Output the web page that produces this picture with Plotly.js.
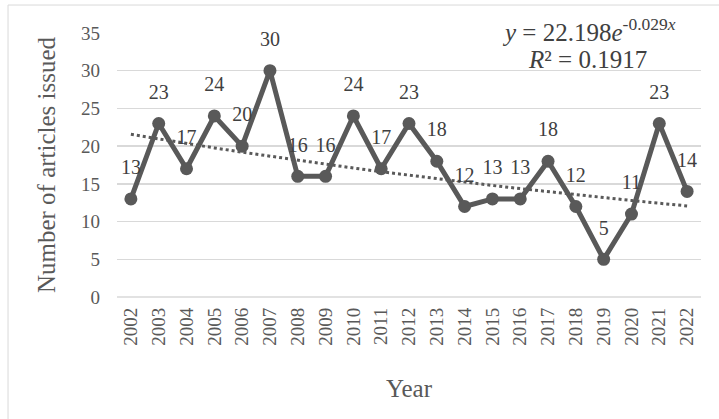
<!DOCTYPE html>
<html>
<head>
<meta charset="utf-8">
<script src="https://cdn.plot.ly/plotly-3.0.1.min.js"></script>
<style>html,body{margin:0;padding:0;background:#fff;}#chart{width:719px;height:419px;}</style>
</head>
<body>
<div id="chart"></div>
<script>
const years = ["2002","2003","2004","2005","2006","2007","2008","2009","2010","2011","2012","2013","2014","2015","2016","2017","2018","2019","2020","2021","2022"];
const articles = [13,23,17,24,20,30,16,16,24,17,23,18,12,13,13,18,12,5,11,23,14];
const trendA = 22.198;
const trendB = -0.029;
const trendR2 = 0.1917;
const yTicks = [0,5,10,15,20,25,30,35];

const trendVals = years.map((_, i) => trendA * Math.exp(trendB * (i + 1)));
const font = "'Liberation Serif', 'Times New Roman', serif";

const traces = [
  {
    x: years, y: trendVals, type: "scatter", mode: "lines",
    line: {color: "#595959", width: 3, dash: "dot"},
    hoverinfo: "skip", showlegend: false
  },
  {
    x: years, y: articles, type: "scatter", mode: "lines+markers",
    line: {color: "#595959", width: 5},
    marker: {color: "#595959", size: 13},
    showlegend: false
  },
  {
    x: years, y: articles, type: "scatter", mode: "markers+text",
    marker: {color: "rgba(0,0,0,0)", size: 30},
    text: articles.map(String), textposition: "top center",
    textfont: {family: font, size: 20, color: "#404040"},
    cliponaxis: false, showlegend: false, hoverinfo: "skip"
  }
];

const layout = {
  width: 719, height: 419,
  margin: {l: 117, r: 18, t: 33, b: 122},
  paper_bgcolor: "#fff", plot_bgcolor: "#fff",
  font: {family: font, color: "#595959"},
  xaxis: {
    type: "category", range: [-0.5, 20.5],
    tickangle: -90, tickfont: {family: font, size: 19, color: "#595959"},
    showgrid: false, zeroline: false, showline: false, ticks: "",
    ticklabelstandoff: 6,
    title: {text: "Year", font: {family: font, size: 25, color: "#595959"}, standoff: 34}
  },
  yaxis: {
    range: [0, 35], tickvals: yTicks, ticktext: yTicks.map(String),
    tickfont: {family: font, size: 19, color: "#595959"},
    gridcolor: "#d9d9d9", gridwidth: 1.3, zeroline: false, showline: false, ticks: "",
    ticklabelstandoff: 16,
    title: {text: "Number of articles issued", font: {family: font, size: 25, color: "#595959"}, standoff: 18}
  },
  shapes: [
    {type: "line", xref: "paper", yref: "paper", x0: 0, x1: 1, y0: 0, y1: 0, line: {color: "#d9d9d9", width: 1.3}},
    {type: "rect", xref: "paper", yref: "paper", x0: -0.1866, x1: 1.032, y0: -0.47, y1: 1.106, line: {color: "#d9d9d9", width: 1}, fillcolor: "rgba(0,0,0,0)", layer: "below"}
  ],
  annotations: [
    {xref: "paper", yref: "paper", x: (589 - 117) / 584, y: (297 - 30) / 264, xanchor: "center", yanchor: "middle", showarrow: false,
     text: "<i>y</i> = 22.198<i>e</i><sup>" + trendB.toFixed(3) + "<i>x</i></sup>",
     font: {family: font, size: 25, color: "#404040"}},
    {xref: "paper", yref: "paper", x: (587 - 117) / 584, y: (297 - 59) / 264, xanchor: "center", yanchor: "middle", showarrow: false,
     text: "<i>R</i>² = " + trendR2,
     font: {family: font, size: 25, color: "#404040"}}
  ]
};

Plotly.newPlot("chart", traces, layout, {displayModeBar: false, staticPlot: true});
</script>
</body>
</html>
